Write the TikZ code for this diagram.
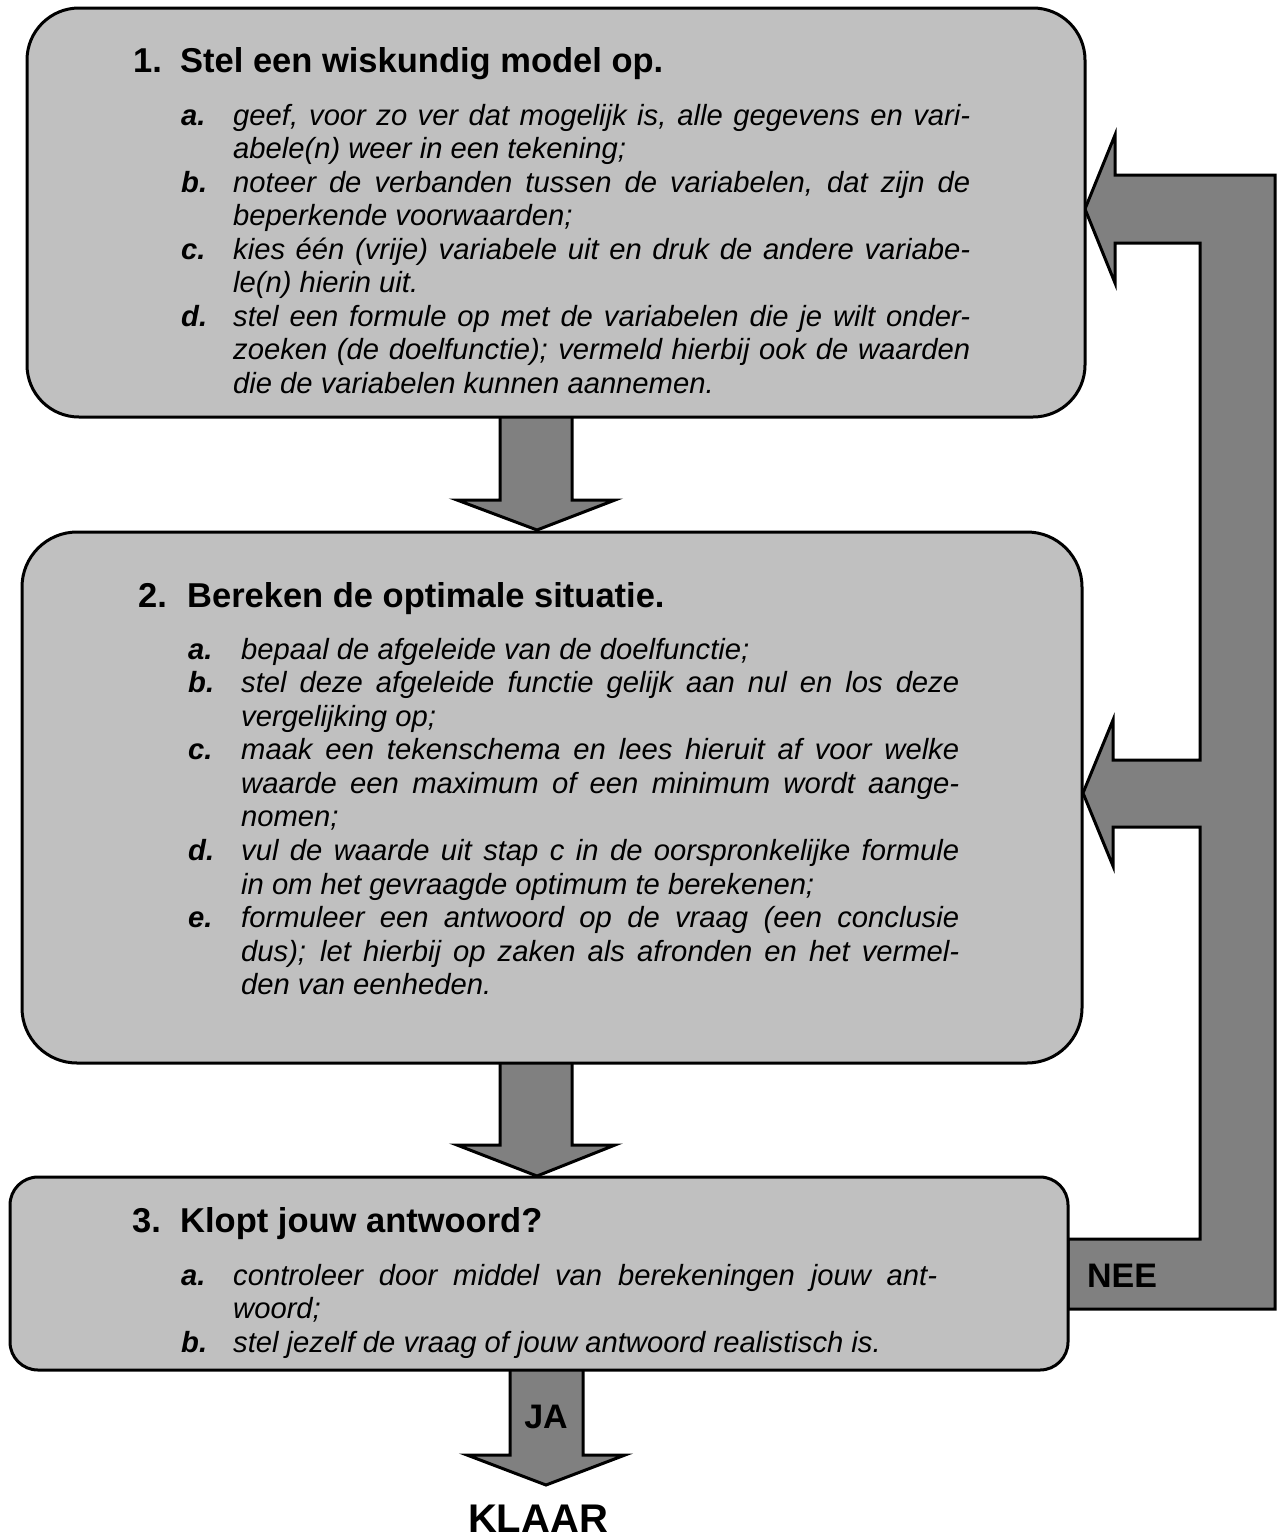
\documentclass[tikz,border=0pt]{standalone}
\usepackage{fontspec}
\setmainfont{Liberation Sans}
\definecolor{boxgray}{RGB}{192,192,192}
\definecolor{arrgray}{RGB}{128,128,128}
\newcommand\JL[1]{\hbox to\linewidth{#1}}
\newcommand\LL[1]{\hbox{#1}}
\newcommand\bodyfont{\fontsize{29.2pt}{33.5pt}\selectfont\itshape}
\newcommand\titlefont{\fontsize{34.5pt}{40pt}\selectfont\bfseries}
\begin{document}
\begin{tikzpicture}[x=1pt,y=-1pt,
  boxstyle/.style={draw=black,line width=3pt,fill=boxgray,inner sep=0pt},
  blockarrow/.style={draw=black,line width=3pt,fill=arrgray,line join=miter},
  titlestyle/.style={anchor=base west,inner sep=0pt,font=\titlefont},
  labelstyle/.style={anchor=base west,inner sep=0pt,font=\bodyfont\bfseries},
  itemstyle/.style={anchor=base west,inner sep=0pt,font=\bodyfont},
  bigword/.style={anchor=base,inner sep=0pt,font=\bfseries}]
\useasboundingbox (0,0) rectangle (1284,1539);
% block arrows
\draw[blockarrow] (500,417) -- (500,500) -- (457,500) -- (537,530) -- (615,500) -- (572,500) -- (572,417);
\draw[blockarrow] (500,1063) -- (500,1145) -- (457,1145) -- (537,1176) -- (615,1145) -- (572,1145) -- (572,1063);
\draw[blockarrow] (510,1370) -- (510,1455) -- (467,1455) -- (546,1485) -- (625,1455) -- (583,1455) -- (583,1370);
% feedback loop
\draw[blockarrow] (1068,1309) -- (1275,1309) -- (1275,175) -- (1115,175) -- (1115,135) -- (1085,209) -- (1115,283) -- (1115,243) -- (1200,243) -- (1200,760) -- (1113,760) -- (1113,720) -- (1083,793) -- (1113,866) -- (1113,827) -- (1200,827) -- (1200,1239) -- (1068,1239) -- cycle;
% boxes
\node[boxstyle,rounded corners=52pt,minimum width=1058pt,minimum height=409pt] (b1) at (556,212.5) {};
\node[boxstyle,rounded corners=55pt,minimum width=1060pt,minimum height=531pt] (b2) at (552,797.5) {};
\node[boxstyle,rounded corners=28pt,minimum width=1058pt,minimum height=193pt] (b3) at (539,1273.5) {};
% box 1 text
\node[titlestyle] (t1) at (133,72.7) {\makebox[47pt][l]{1.}Stel een wiskundig model op.};
\node[labelstyle] (l1a) at (181,125) {a.};
\node[labelstyle] (l1b) at (181,192) {b.};
\node[labelstyle] (l1c) at (181,259) {c.};
\node[labelstyle] (l1d) at (181,326) {d.};
\node[itemstyle] (i1a) at (233,125) {\parbox[t]{737pt}{\bodyfont
  \JL{geef, voor zo ver dat mogelijk is, alle gegevens en vari-}
  \LL{abele(n) weer in een tekening;}}};
\node[itemstyle] (i1b) at (233,192) {\parbox[t]{737pt}{\bodyfont
  \JL{noteer de verbanden tussen de variabelen, dat zijn de}
  \LL{beperkende voorwaarden;}}};
\node[itemstyle] (i1c) at (233,259) {\parbox[t]{737pt}{\bodyfont
  \JL{kies één (vrije) variabele uit en druk de andere variabe-}
  \LL{le(n) hierin uit.}}};
\node[itemstyle] (i1d) at (233,326) {\parbox[t]{737pt}{\bodyfont
  \JL{stel een formule op met de variabelen die je wilt onder-}
  \JL{zoeken (de doelfunctie); vermeld hierbij ook de waarden}
  \LL{die de variabelen kunnen aannemen.}}};
% box 2 text
\node[titlestyle] (t2) at (138,607) {\makebox[49pt][l]{2.}Bereken de optimale situatie.};
\node[labelstyle] (l2a) at (188,659) {a.};
\node[labelstyle] (l2b) at (188,692.6) {b.};
\node[labelstyle] (l2c) at (188,759.8) {c.};
\node[labelstyle] (l2d) at (188,860.6) {d.};
\node[labelstyle] (l2e) at (188,927.8) {e.};
\node[itemstyle] (i2a) at (241,659) {\parbox[t]{718pt}{\bodyfont
  \LL{bepaal de afgeleide van de doelfunctie;}}};
\node[itemstyle] (i2b) at (241,692.6) {\parbox[t]{718pt}{\bodyfont
  \JL{stel deze afgeleide functie gelijk aan nul en los deze}
  \LL{vergelijking op;}}};
\node[itemstyle] (i2c) at (241,759.8) {\parbox[t]{718pt}{\bodyfont
  \JL{maak een tekenschema en lees hieruit af voor welke}
  \JL{waarde een maximum of een minimum wordt aange-}
  \LL{nomen;}}};
\node[itemstyle] (i2d) at (241,860.6) {\parbox[t]{718pt}{\bodyfont
  \JL{vul de waarde uit stap c in de oorspronkelijke formule}
  \LL{in om het gevraagde optimum te berekenen;}}};
\node[itemstyle] (i2e) at (241,927.8) {\parbox[t]{718pt}{\bodyfont
  \JL{formuleer een antwoord op de vraag (een conclusie}
  \JL{dus); let hierbij op zaken als afronden en het vermel-}
  \LL{den van eenheden.}}};
% box 3 text
\node[titlestyle] (t3) at (132,1232) {\makebox[48pt][l]{3.}Klopt jouw antwoord?};
\node[labelstyle] (l3a) at (181,1285) {a.};
\node[labelstyle] (l3b) at (181,1352) {b.};
\node[itemstyle] (i3a) at (233,1285) {\parbox[t]{704pt}{\bodyfont
  \JL{controleer door middel van berekeningen jouw ant-}
  \LL{woord;}}};
\node[itemstyle] (i3b) at (233,1352) {\parbox[t]{704pt}{\bodyfont
  \LL{stel jezelf de vraag of jouw antwoord realistisch is.}}};
% labels on arrows
\node[bigword,font=\fontsize{34pt}{40pt}\selectfont\bfseries] (ja) at (546,1428) {JA};
\node[bigword,font=\fontsize{34pt}{40pt}\selectfont\bfseries] (nee) at (1122,1287) {NEE};
\node[bigword,font=\fontsize{40pt}{48pt}\selectfont\bfseries] (klaar) at (538,1532) {KLAAR};
\end{tikzpicture}
\end{document}
